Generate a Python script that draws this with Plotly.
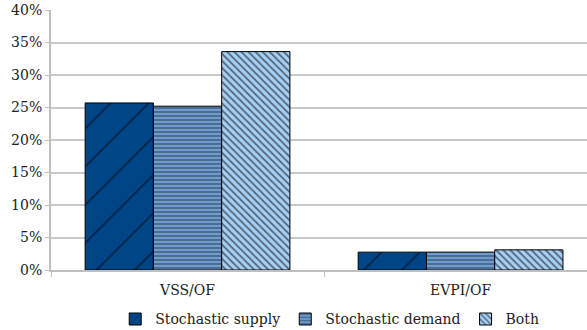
import plotly.graph_objects as go

categories = ["VSS/OF", "EVPI/OF"]
series_names = ["Stochastic supply", "Stochastic demand", "Both"]
supply = [25.7, 2.75]
demand = [25.2, 2.75]
both = [33.6, 3.1]
y_ticks = [0, 5, 10, 15, 20, 25, 30, 35, 40]
y_tick_labels = [f"{v}%" for v in y_ticks]

fills = ["#004586", "#6E9BD0", "#A8D0F5"]
shapes = ["/", "-", "\\"]
sizes = [27, 4, 5]
solid = [0.06, 0.3, 0.35]

fig = go.Figure()
for name, vals, fc, sh, sz, so in zip(series_names, [supply, demand, both], fills, shapes, sizes, solid):
    fig.add_trace(go.Bar(
        x=categories, y=vals, name=name,
        marker=dict(color=fc, line=dict(color="black", width=1),
                    pattern=dict(shape=sh, fgcolor="black", bgcolor=fc,
                                 fillmode="overlay", size=sz, solidity=so)),
    ))

font = "DejaVu Serif"
fig.update_layout(
    width=587, height=330,
    margin=dict(l=51, r=0, t=10, b=60, autoexpand=False),
    barmode="group", bargap=0.25, bargroupgap=0,
    plot_bgcolor="white", paper_bgcolor="white",
    font=dict(family=font, size=14, color="#222"),
    legend=dict(orientation="h", x=0.52, xanchor="center", y=-0.19, yref="paper",
                yanchor="middle", font=dict(size=14), itemwidth=30, tracegroupgap=0),
    xaxis=dict(range=[-0.5, 1.463], showline=True, linecolor="#BFBFBF", linewidth=2,
               ticks="outside", tickson="boundaries", ticklen=5, tickcolor="#BFBFBF",
               ticklabelstandoff=6,
               showgrid=False, tickfont=dict(size=14), automargin=False),
    yaxis=dict(range=[0, 40], tickvals=y_ticks, ticktext=y_tick_labels,
               showline=True, linecolor="#BFBFBF", linewidth=2,
               gridcolor="#C8C8C8", gridwidth=1.5, ticks="outside", ticklen=4,
               tickcolor="#BFBFBF", zeroline=False, tickfont=dict(size=14),
               automargin=False),
)
fig.write_html("out.html")
